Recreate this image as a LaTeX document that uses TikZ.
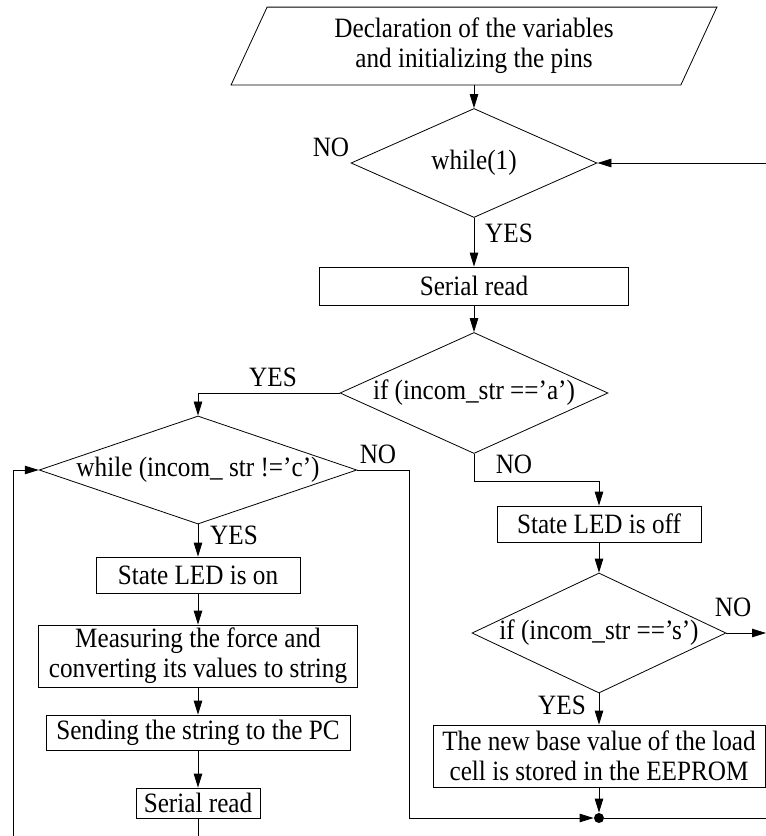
\documentclass[tikz,border=0pt]{standalone}
\usepackage{fontspec}
\setmainfont[FakeStretch=0.9]{Liberation Serif}
\usetikzlibrary{shapes.geometric,arrows.meta}
\begin{document}
\begin{tikzpicture}[x=1pt,y=-1pt,
  font=\fontsize{28}{30}\selectfont,
  line width=0.8pt,
  arr/.style={-{Triangle[length=14pt,width=8.5pt]}},
  box/.style={draw, rectangle, inner sep=0pt, align=center},
  dec/.style={draw, diamond, inner sep=0pt},
  lbl/.style={inner sep=0pt}]
\useasboundingbox (0,0) rectangle (766,836);
\clip (0,0) rectangle (766,836);

% start (parallelogram)
\node[inner sep=0pt, minimum width=449pt, minimum height=77pt, align=center] (start) at (474,46)
  {Declaration of the variables\\and initializing the pins};
\draw ([xshift=18pt]start.north west) -- ([xshift=18pt]start.north east)
  -- ([xshift=-18pt]start.south east) -- ([xshift=-18pt]start.south west) -- cycle;

% main column
\node[dec, aspect=2.26, minimum width=246pt, minimum height=109pt] (w1) at (474,163) {while(1)};
\node[box, minimum width=309pt, minimum height=38pt] (sr1) at (474,286) {Serial read};
\node[dec, aspect=2.21, minimum width=268pt, minimum height=121pt] (ifa) at (474,393) {if (incom\_str ==’a’)};

% left column
\node[dec, aspect=2.94, minimum width=315pt, minimum height=107pt] (wc) at (198,470) {while (incom\_ str !=’c’)};
\node[box, minimum width=204pt, minimum height=36pt] (ledon) at (198,575) {State LED is on};
\node[box, minimum width=319pt, minimum height=62pt] (meas) at (198,656)
  {Measuring the force and\\converting its values to string};
\node[box, minimum width=304pt, minimum height=35pt] (send) at (198,732.5) {Sending the string to the PC};
\node[box, minimum width=124pt, minimum height=30pt] (sr2) at (198,803) {Serial read};

% right column
\node[box, minimum width=204pt, minimum height=36pt] (ledoff) at (599,524) {State LED is off};
\node[dec, aspect=2.12, minimum width=254pt, minimum height=120pt] (ifs) at (599,633) {if (incom\_str ==’s’)};
\node[box, minimum width=332pt, minimum height=62pt] (eep) at (599,756)
  {The new base value of the load\\cell is stored in the EEPROM};
\node[circle, fill, inner sep=0pt, minimum size=10pt] (dot) at (599,818) {};

% helper coordinates
\coordinate (sout) at (766,633);
\coordinate (rr) at (790,818);
\coordinate (lb) at (198,860);
\coordinate (lc) at (13,470);
\coordinate (nc) at (409,818);

% connectors
\draw[arr] (start.south) -- (w1.north);
\draw[arr] (w1.south) -- (sr1.north);
\draw[arr] (sr1.south) -- (ifa.north);
\draw[arr] (ifa.west) -| (wc.north);
\draw[arr] (ifa.south) -- ++(0,27) -| (ledoff.north);
\draw[arr] (ledoff.south) -- (ifs.north);
\draw[arr] (ifs.east) -- (sout);
\draw[arr] (ifs.south) -- (eep.north);
\draw[arr] (eep.south) -- (dot.north);
\draw[arr] (wc.east) -| (nc) -- (dot.west);
\draw[arr] (dot.east) -- (rr) |- (w1.east);
\draw[arr] (wc.south) -- (ledon.north);
\draw[arr] (ledon.south) -- (meas.north);
\draw[arr] (meas.south) -- (send.north);
\draw[arr] (send.south) -- (sr2.north);
\draw[arr] (sr2.south) -- (lb) -| (lc) -- (wc.west);

% labels
\node[lbl] (l1) at (331,147) {NO};
\node[lbl] (l2) at (509,233) {YES};
\node[lbl] (l3) at (273,377) {YES};
\node[lbl] (l4) at (514,464) {NO};
\node[lbl] (l5) at (378,454) {NO};
\node[lbl] (l6) at (234,535) {YES};
\node[lbl] (l7) at (733,607) {NO};
\node[lbl] (l8) at (562,705) {YES};
\end{tikzpicture}
\end{document}
